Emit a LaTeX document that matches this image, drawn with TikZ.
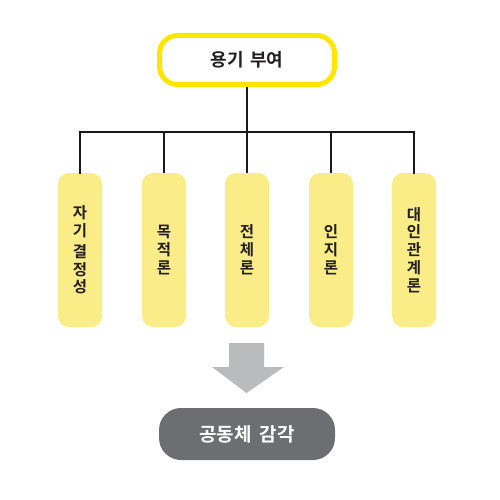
\documentclass[tikz,border=0pt]{standalone}
\usepackage{fontspec}
\setmainfont{Noto Sans CJK KR Bold}
\usetikzlibrary{positioning}
\definecolor{topyellow}{HTML}{FFE600}
\definecolor{boxyellow}{HTML}{FAEC86}
\definecolor{arrowgray}{HTML}{BABBBD}
\definecolor{darkbox}{HTML}{6D6E71}
\definecolor{textdark}{HTML}{231F20}
\tikzset{
  topbox/.style={draw=topyellow, line width=5pt, fill=white, rounded corners=18pt,
    minimum width=175pt, minimum height=49pt, inner sep=0pt, font=\fontsize{18}{20}\selectfont, text=textdark},
  pillar/.style={fill=boxyellow, rounded corners=11pt, minimum width=44pt, minimum height=154pt,
    inner sep=0pt, align=center, font=\fontsize{15.5}{17.8}\selectfont, text=textdark},
  bottombox/.style={fill=darkbox, rounded corners=22pt, minimum width=176pt, minimum height=52pt,
    inner sep=0pt, text=white, font=\fontsize{19}{21}\selectfont},
  conn/.style={draw=black!90, line width=2pt},
}
\begin{document}
\begin{tikzpicture}[x=1pt,y=-1pt]
\useasboundingbox (0,0) rectangle (500,500);
\node[topbox] (top) at (247,60) {용기\hspace{0.35em}부여};
\node[pillar] (p1) at (80,250) {자\\기\\[3pt]결\\정\\성};
\node[pillar] (p2) at (164,250) {목\\적\\론};
\node[pillar] (p3) at (247,250) {전\\체\\론};
\node[pillar] (p4) at (331,250) {인\\지\\론};
\node[pillar] (p5) at (414,250) {대\\인\\관\\계\\론};
\coordinate (hub) at (247,132);
\draw[conn] (top.south) -- (hub);
\draw[conn, line cap=rect] (p1.north) |- (hub) -| (p5.north);
\foreach \p in {p2,p3,p4}{\draw[conn] (\p.north) -- (\p.north |- hub);}
\node[bottombox] (bot) at (247,434) {공동체\hspace{0.4em}감각};
\fill[arrowgray] (229,343) -- (264,343) -- (264,367) -- (284,367) -- (246.5,393) -- (212,367) -- (229,367) -- cycle;
\end{tikzpicture}
\end{document}
